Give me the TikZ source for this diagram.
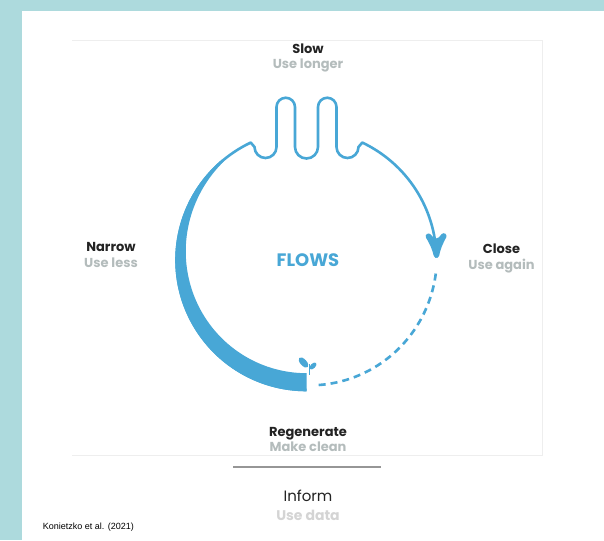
\documentclass[tikz,border=0pt]{standalone}
\usepackage{fontspec}
\setmainfont{Poppins}
\newfontfamily\citefont{Liberation Sans}
\usetikzlibrary{arrows}
\usetikzlibrary{decorations.markings}
\definecolor{flowblue}{RGB}{72,167,214}
\definecolor{slide}{RGB}{173,218,221}
\definecolor{ink}{RGB}{35,35,35}
\definecolor{soft}{RGB}{180,188,188}
\definecolor{faint}{RGB}{212,212,212}
\definecolor{framegray}{RGB}{238,238,238}
\definecolor{rulegray}{RGB}{150,150,150}
\tikzset{->/.style = {decoration={markings,
                                  mark=at position 1 with {\arrow[scale=2.2]{stealth'}}},
                      postaction={decorate}}}
\tikzset{flow/.style = {draw=flowblue, line width=2.6, line join=round}}
\tikzset{heading/.style = {anchor=base, text=ink, font=\bfseries\fontsize{13}{13}\selectfont}}
\tikzset{hint/.style = {anchor=base, text=soft, font=\bfseries\fontsize{13}{13}\selectfont}}

\begin{document}
\begin{tikzpicture}[x=1pt, y=1pt]
    \useasboundingbox (0, 0) rectangle (604, 540);
    \fill [slide] (0, 0) rectangle (604, 540);
    \fill [white] (22, 0) rectangle (604, 529);
    \draw [framegray, line width=0.8] (72, 500) -- (542, 500) -- (542, 85) -- (72, 85);
    \draw [flow, ->] (306.5, 150) arc [start angle=270, end angle=115.4, radius=130]
        -- (254.5, 393) arc [start angle=180, end angle=360, radius=11]
        -- (276.5, 433) arc [start angle=180, end angle=0, radius=9.25]
        -- (295, 393) arc [start angle=180, end angle=360, radius=11.5]
        -- (318, 433) arc [start angle=180, end angle=0, radius=9.25]
        -- (336.5, 393) arc [start angle=180, end angle=360, radius=11]
        -- (362.26, 397.44) arc [start angle=64.6, end angle=1, radius=130];
    \fill [flowblue] plot [domain=130:270, samples=70] ({306.5 + 131.3*cos(\x)}, {280 + 131.3*sin(\x)})
        -- plot [domain=270:130, samples=70] ({306.5 + (128.7 - 15.5*sin((\x - 130)*0.643))*cos(\x)}, {280 + (128.7 - 15.5*sin((\x - 130)*0.643))*sin(\x)}) -- cycle;
    \draw [flowblue, line width=2.6, dash pattern=on 7pt off 5pt] plot [domain=-6:-86, samples=60] ({306.5 + (130 + (\x + 6)*0.056)*cos(\x)}, {280 + (130 + (\x + 6)*0.056)*sin(\x)});
    \draw [flowblue, line width=1.7] (309.5, 165) -- (309.5, 176);
    \fill [flowblue, rotate around={42:(303.5, 177.5)}] (303.5, 177.5) ellipse [x radius=3.2, y radius=6.3];
    \fill [flowblue, rotate around={-45:(313, 174)}] (313, 174) ellipse [x radius=2.4, y radius=4.3];
    \node [heading] (slow) at (308, 486.5) {Slow};
    \node [hint] (uselonger) at (308, 471.5) {Use longer};
    \node [heading] (narrow) at (111, 288) {Narrow};
    \node [hint] (useless) at (111, 272) {Use less};
    \node [heading] (close) at (501.5, 286) {Close};
    \node [hint] (useagain) at (501.5, 270) {Use again};
    \node [anchor=base, text=flowblue, font=\bfseries\fontsize{18}{18}\selectfont] (flows) at (308, 273.5) {FLOWS};
    \node [heading] (regenerate) at (308, 103) {Regenerate};
    \node [hint] (makeclean) at (308, 88) {Make clean};
    \draw [rulegray, line width=1.4] (233, 73) -- (381, 73);
    \node [anchor=base, text=ink, font=\fontsize{15}{15}\selectfont] (inform) at (308, 38.3) {Inform};
    \node [anchor=base, text=faint, font=\bfseries\fontsize{14}{14}\selectfont] (usedata) at (308, 19.3) {Use data};
    \node [anchor=base west, inner sep=0, font=\citefont\fontsize{9}{9}\selectfont] (source) at (42.7, 10.7) {Konietzko et al. (2021)};
\end{tikzpicture}
\end{document}
